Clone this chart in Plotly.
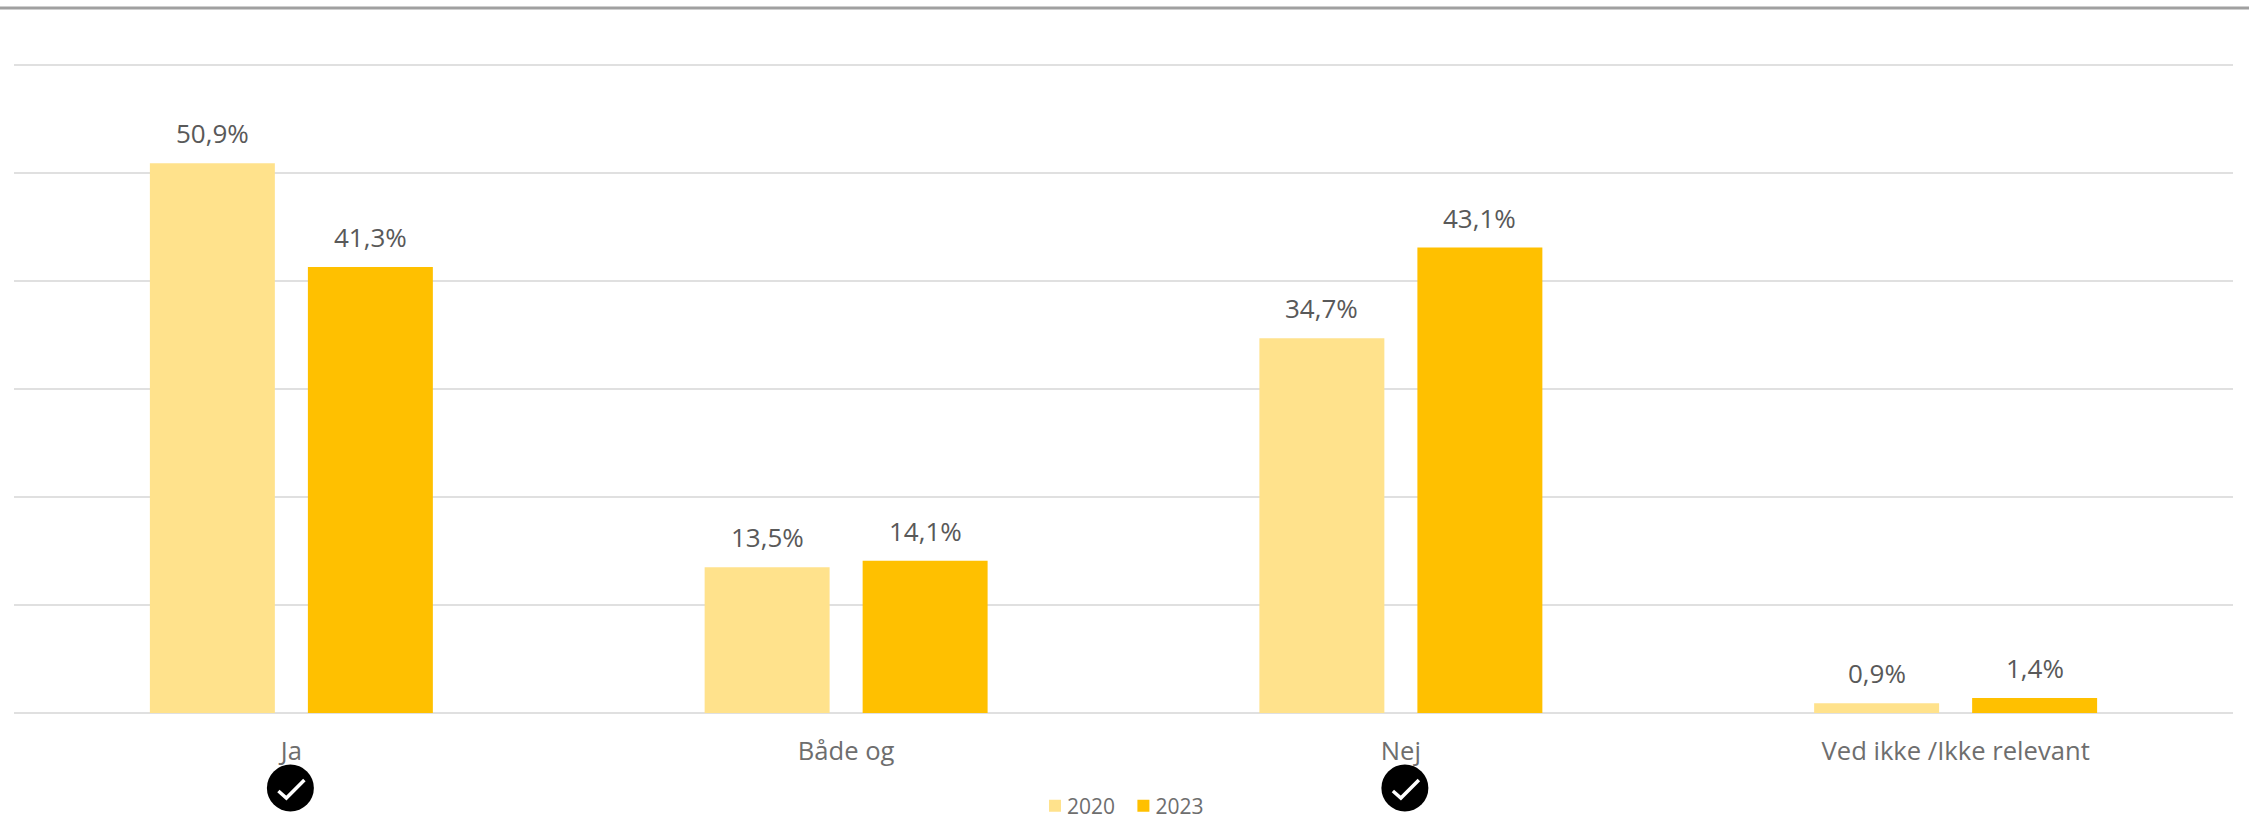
import plotly.graph_objects as go

categories = ["Ja", "Både og", "Nej", "Ved ikke /Ikke relevant"]
values_2020 = [50.9, 13.5, 34.7, 0.9]
values_2023 = [41.3, 14.1, 43.1, 1.4]
checked = ["Ja", "Nej"]

W, H = 2249, 814
L, R, T, B = 14, 16, 64, 101
PH = H - T - B
BASE = H - B
FONT = "Open Sans"


def fmt(v):
    return f"{v:.1f}%".replace(".", ",")


fig = go.Figure()
annotations = []
series = [("2020", values_2020, "#FFE28C", -79), ("2023", values_2023, "#FFC000", 79)]
for name, vals, col, shift in series:
    fig.add_trace(go.Bar(
        name=name, x=categories, y=vals,
        marker=dict(color=col, line=dict(width=0)),
        hoverinfo="x+y",
    ))
    for cat, v in zip(categories, vals):
        annotations.append(dict(
            x=cat, y=v, text=fmt(v), showarrow=False, xref="x", yref="y",
            xanchor="center", yanchor="middle", xshift=shift, yshift=30,
            font=dict(family=FONT, size=26, color="#595959"),
        ))

shapes = [dict(type="line", xref="paper", yref="paper",
               x0=-L / (W - L - R), x1=(W - L) / (W - L - R),
               y0=(BASE - 8) / PH, y1=(BASE - 8) / PH,
               line=dict(color="#A0A0A0", width=3))]
for cat, dx in zip(checked, (-1, 4)):
    cy = (BASE - 788) / PH
    shapes.append(dict(type="circle", xref="x", yref="paper",
                       xsizemode="pixel", ysizemode="pixel",
                       xanchor=cat, yanchor=cy,
                       x0=dx - 23.5, x1=dx + 23.5, y0=-23.5, y1=23.5,
                       fillcolor="#000000", line=dict(width=0)))
    shapes.append(dict(type="path", xref="x", yref="paper",
                       xsizemode="pixel", ysizemode="pixel",
                       xanchor=cat, yanchor=cy,
                       path=f"M{dx-12},-3 L{dx-4},-10 L{dx+14},8",
                       line=dict(color="#FFFFFF", width=3.5)))

fig.update_layout(
    width=W, height=H, autosize=False,
    margin=dict(l=L, r=R, t=T, b=B, pad=0),
    paper_bgcolor="#FFFFFF", plot_bgcolor="#FFFFFF",
    barmode="group", bargap=0.4304, bargroupgap=0.209,
    font=dict(family=FONT, color="#6E6E6E"),
    shapes=shapes, annotations=annotations,
    showlegend=True,
    legend=dict(orientation="h", xref="container", yref="container",
                x=1035 / W, xanchor="left",
                y=(H - 806) / H, yanchor="middle",
                font=dict(family=FONT, size=21, color="#6E6E6E"),
                bgcolor="rgba(0,0,0,0)", traceorder="normal",
                entrywidth=43.4, entrywidthmode="pixels", itemclick=False),
    xaxis=dict(type="category", categoryorder="array", categoryarray=categories,
               showgrid=False, ticks="", showline=False, zeroline=False,
               tickfont=dict(family=FONT, size=25.6, color="#6E6E6E"),
               ticklabelstandoff=20, fixedrange=True),
    yaxis=dict(range=[0, 60.1], tick0=0, dtick=10, showticklabels=False, ticks="",
               showgrid=True, gridcolor="#E0E0E0", gridwidth=2,
               zeroline=True, zerolinecolor="#E0E0E0", zerolinewidth=2,
               showline=False, fixedrange=True),
)

fig.write_html(
    "out.html", config={"displayModeBar": False},
    post_script=(
        "document.body.style.margin='0';"
        "document.querySelectorAll('.legendtext').forEach(function(t){t.setAttribute('x','32');});"
    ),
)
